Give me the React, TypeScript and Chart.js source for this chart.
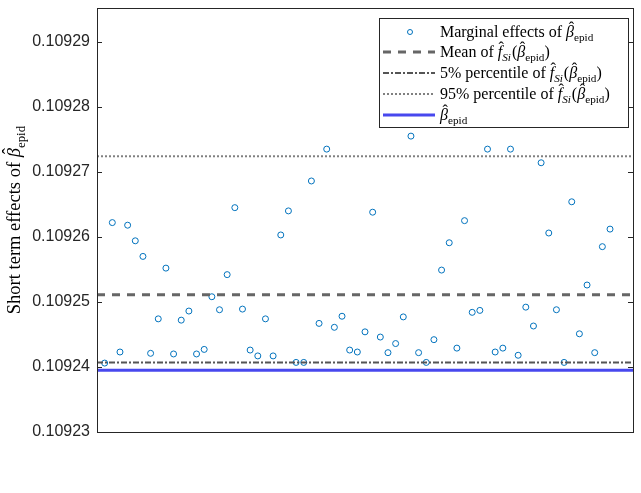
import React, { useEffect, useRef } from "react";
import { Chart, registerables } from "chart.js";

Chart.register(...registerables);

// ---- Data ----
const marginalEffects: number[] = [
  0.1092406, 0.1092622, 0.1092423, 0.1092618, 0.1092594, 0.109257, 0.1092421, 0.1092474,
  0.1092552, 0.109242, 0.1092472, 0.1092486, 0.109242, 0.1092427, 0.1092508, 0.1092488,
  0.1092542, 0.1092645, 0.1092489, 0.1092426, 0.1092417, 0.1092474, 0.1092417, 0.1092603,
  0.109264, 0.1092407, 0.1092407, 0.1092686, 0.1092467, 0.1092735, 0.1092461, 0.1092478,
  0.1092426, 0.1092423, 0.1092454, 0.1092638, 0.1092446, 0.1092422, 0.1092436, 0.1092477,
  0.1092755, 0.1092422, 0.1092407, 0.1092442, 0.1092549, 0.1092591, 0.1092429, 0.1092625,
  0.1092484, 0.1092487, 0.1092735, 0.1092423, 0.1092429, 0.1092735, 0.1092418, 0.1092492,
  0.1092463, 0.1092714, 0.1092606, 0.1092488, 0.1092407, 0.1092654, 0.1092451, 0.1092526,
  0.1092422, 0.1092585, 0.1092612,
];
const meanValue = 0.1092511;
const p5Value = 0.1092407;
const p95Value = 0.1092724;
const betaEpid = 0.1092395;
const yTickValues: number[] = [0.10923, 0.10924, 0.10925, 0.10926, 0.10927, 0.10928, 0.10929];
const yMin = 0.10923;
const yMax = 0.1092952;
const xMin = 0;
const xMax = 70;

const SERIF = "'Liberation Serif', 'Times New Roman', serif";
const SANS = "'Liberation Sans', Arial, sans-serif";

type Part = { t: string; it?: boolean; sub?: boolean; hat?: boolean };

const betaParts: Part[] = [
  { t: "β", it: true, hat: true },
  { t: "epid", sub: true },
];
const fParts: Part[] = [
  { t: "f", it: true, hat: true },
  { t: "Si", it: true, sub: true },
  { t: "(" },
  ...betaParts,
  { t: ")" },
];

function drawRich(ctx: CanvasRenderingContext2D, x: number, y: number, parts: Part[], size: number, draw = true): number {
  let cx = x;
  for (const p of parts) {
    const fs = p.sub ? size * 0.7 : size;
    ctx.font = `${p.it ? "italic " : ""}${fs}px ${SERIF}`;
    const dy = p.sub ? size * 0.28 : 0;
    const w = ctx.measureText(p.t).width;
    if (draw) {
      ctx.fillText(p.t, cx, y + dy);
      if (p.hat) {
        ctx.save();
        ctx.font = `${size}px ${SERIF}`;
        const hw = ctx.measureText("ˆ").width;
        ctx.fillText("ˆ", cx + w / 2 - hw / 2 + size * 0.08, y - size * 0.27);
        ctx.restore();
      }
    }
    cx += w + (p.sub && p.it ? 1 : 0);
  }
  return cx - x;
}

const legendRows: { parts: Part[]; kind: string }[] = [
  { parts: [{ t: "Marginal effects of " }, ...betaParts], kind: "marker" },
  { parts: [{ t: "Mean of " }, ...fParts], kind: "mean" },
  { parts: [{ t: "5% percentile of " }, ...fParts], kind: "p5" },
  { parts: [{ t: "95% percentile of " }, ...fParts], kind: "p95" },
  { parts: betaParts, kind: "beta" },
];

const lineStyles: Record<string, { color: string; width: number; dash: number[] }> = {
  mean: { color: "#666666", width: 3, dash: [8, 7] },
  p5: { color: "#555555", width: 2, dash: [6, 2, 2, 2] },
  p95: { color: "#808080", width: 2, dash: [2, 2] },
  beta: { color: "#4848ee", width: 3, dash: [] },
};

const framePlugin = {
  id: "matlabFrame",
  afterDatasetsDraw(chart: any) {
    const { ctx, chartArea } = chart;
    const { left, right, top, bottom } = chartArea;
    const ys = chart.scales.y;
    ctx.save();
    ctx.strokeStyle = "#262626";
    ctx.lineWidth = 1;
    ctx.setLineDash([]);
    ctx.strokeRect(Math.round(left) + 0.5, Math.round(top) + 0.5, Math.round(right - left), Math.round(bottom - top));
    for (const v of yTickValues) {
      const py = Math.round(ys.getPixelForValue(v)) + 0.5;
      ctx.beginPath();
      ctx.moveTo(left, py);
      ctx.lineTo(left + 5, py);
      ctx.moveTo(right, py);
      ctx.lineTo(right - 5, py);
      ctx.stroke();
    }
    ctx.restore();
  },
  afterDraw(chart: any) {
    const { ctx, chartArea } = chart;
    ctx.save();
    ctx.fillStyle = "#000000";
    ctx.textBaseline = "alphabetic";
    ctx.textAlign = "left";
    // Y title
    const tSize = 18.5;
    const titleParts: Part[] = [{ t: "Short term effects of " }, ...betaParts];
    const tw = drawRich(ctx, 0, 0, titleParts, tSize, false);
    ctx.translate(20, (chartArea.top + chartArea.bottom) / 2);
    ctx.rotate(-Math.PI / 2);
    drawRich(ctx, -tw / 2, 0, titleParts, tSize, true);
    ctx.restore();

    // Legend
    ctx.save();
    const bx = 379.5, by = 18.5, bw = 249, bh = 109;
    ctx.fillStyle = "#ffffff";
    ctx.fillRect(bx, by, bw, bh);
    ctx.strokeStyle = "#262626";
    ctx.lineWidth = 1;
    ctx.strokeRect(bx, by, bw, bh);
    const rowY = [32, 52, 73, 94, 115];
    legendRows.forEach((row, i) => {
      const cy = rowY[i];
      if (row.kind === "marker") {
        ctx.beginPath();
        ctx.arc(410, cy, 2.5, 0, Math.PI * 2);
        ctx.strokeStyle = "#0072BD";
        ctx.lineWidth = 1;
        ctx.setLineDash([]);
        ctx.stroke();
      } else {
        const s = lineStyles[row.kind];
        ctx.beginPath();
        ctx.strokeStyle = s.color;
        ctx.lineWidth = s.width;
        ctx.setLineDash(s.dash);
        ctx.moveTo(383, cy);
        ctx.lineTo(435, cy);
        ctx.stroke();
        ctx.setLineDash([]);
      }
      ctx.fillStyle = "#000000";
      drawRich(ctx, 440, cy + 5, row.parts, 16, true);
    });
    ctx.restore();
  },
};

function hLine(label: string, v: number, kind: string, order: number) {
  const s = lineStyles[kind];
  return {
    type: "line" as const,
    label,
    data: [
      { x: xMin, y: v },
      { x: xMax, y: v },
    ],
    showLine: true,
    borderColor: s.color,
    borderWidth: s.width,
    borderDash: s.dash,
    pointRadius: 0,
    fill: false,
    order,
  };
}

export default function App() {
  const ref = useRef<HTMLCanvasElement | null>(null);
  useEffect(() => {
    if (!ref.current) return;
    const chart = new Chart(ref.current, {
      type: "scatter",
      data: {
        datasets: [
          hLine("Mean", meanValue, "mean", 1),
          hLine("5% percentile", p5Value, "p5", 1),
          hLine("95% percentile", p95Value, "p95", 1),
          hLine("beta_epid", betaEpid, "beta", 1),
          {
            label: "Marginal effects",
            data: marginalEffects.map((v, i) => ({ x: i + 1, y: v })),
            pointRadius: 3,
            pointBorderWidth: 1,
            borderColor: "#0072BD",
            pointBorderColor: "#0072BD",
            pointBackgroundColor: "rgba(0,0,0,0)",
            backgroundColor: "rgba(0,0,0,0)",
            showLine: false,
            order: 2,
          } as any,
        ],
      },
      options: {
        animation: false,
        responsive: false,
        events: [],
        layout: { padding: { left: 0, right: 8, top: 8, bottom: 61 } },
        plugins: { legend: { display: false }, tooltip: { enabled: false } },
        scales: {
          x: { type: "linear", min: xMin, max: xMax, display: false },
          y: {
            type: "linear",
            min: yMin,
            max: yMax,
            grid: { display: false, drawTicks: false },
            border: { display: false },
            afterBuildTicks: (scale: any) => {
              scale.ticks = yTickValues.map((v) => ({ value: v }));
            },
            afterFit: (scale: any) => {
              scale.width = 97;
              scale.paddingTop = 0;
              scale.paddingBottom = 0;
            },
            ticks: {
              padding: 7,
              color: "#262626",
              font: { family: SANS, size: 16 },
              callback: (v: any) => Number(v).toFixed(5),
            },
          },
        },
      },
      plugins: [framePlugin],
    });
    return () => chart.destroy();
  }, []);
  return (
    <div style={{ position: "fixed", left: 0, top: 0, width: 641, height: 493, background: "#fff" }}>
      <canvas ref={ref} width={641} height={493} style={{ display: "block" }} />
    </div>
  );
}
